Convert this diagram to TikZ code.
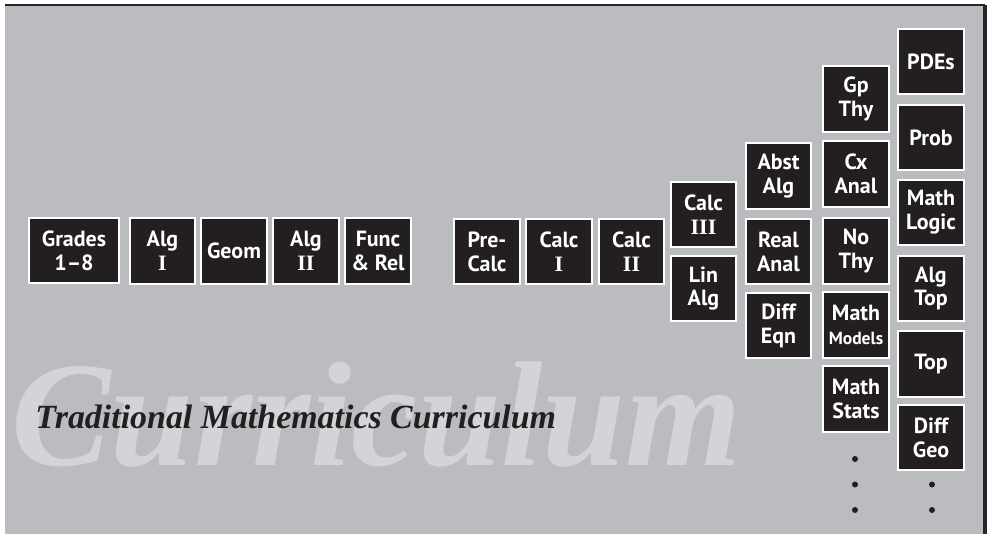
\documentclass[tikz,border=0pt]{standalone}
\usepackage{fontspec}
\setmainfont{Liberation Serif}
\setsansfont{PT Sans}
\usepackage{xcolor}
\usetikzlibrary{positioning,calc}
\definecolor{panelgray}{RGB}{187, 188, 192}
\definecolor{boxblack}{RGB}{35, 31, 32}
\definecolor{framedark}{RGB}{40, 38, 40}
\definecolor{ghostgray}{RGB}{211, 212, 215}
\newcommand{\rmnum}[1]{{\rmfamily\bfseries #1}}

\begin{document}
\begin{tikzpicture}[
  course/.style={rectangle, draw=white, fill=boxblack, line width=1.4pt, minimum width=1.31cm, minimum height=1.31cm, inner sep=1pt, align=center, text=white, font=\sffamily\bfseries\fontsize{12.5}{13.6}\selectfont},
  widecourse/.style={course, minimum width=1.79cm},
  moredot/.style={circle, fill=boxblack, inner sep=0pt, minimum size=0.12cm}
]
\useasboundingbox (0,0) rectangle (19.76,-10.68);

% Panel and its dark top / right edge
\fill[panelgray] (0.10,-0.10) rectangle (19.70,-10.68);
\draw[framedark, line width=1.2pt] (0.10,-0.10) -- (19.70,-0.10);
\draw[framedark, line width=1.8pt] (19.70,-0.10) -- (19.70,-10.68);

% Watermark and title
\node[anchor=base west, inner sep=0pt, text=ghostgray, font=\rmfamily\bfseries\itshape\fontsize{85}{85}\selectfont] (ghost) at (0.22,-9.30) {Curriculum};
\node[anchor=base west, inner sep=0pt, text=boxblack, font=\rmfamily\bfseries\itshape\fontsize{19.3}{20}\selectfont] (title) at (0.70,-8.56) {Traditional Mathematics Curriculum};

% School track
\node[widecourse] (grades) at (1.48, -5.01) {Grades\\1--8};
\node[course] (algi) at (3.25, -5.02) {Alg\\\rmnum{I}};
\node[course] (geom) at (4.68, -5.02) {Geom};
\node[course] (algii) at (6.12, -5.02) {Alg\\\rmnum{II}};
\node[course] (func) at (7.56, -5.02) {Func\\\& Rel};

% Calculus track
\node[course] (precalc) at (9.74, -5.03) {Pre-\\Calc};
\node[course] (calci) at (11.18, -5.03) {Calc\\\rmnum{I}};
\node[course] (calcii) at (12.63, -5.03) {Calc\\\rmnum{II}};
\node[course] (calciii) at (14.07, -4.29) {Calc\\\rmnum{III}};
\node[course] (linalg) at (14.07, -5.77) {Lin\\Alg};

% Upper division
\node[course] (abstalg) at (15.57, -3.52) {Abst\\Alg};
\node[course] (realanal) at (15.57, -5.03) {Real\\Anal};
\node[course] (diffeqn) at (15.57, -6.51) {Diff\\Eqn};

\node[course] (gpthy) at (17.12, -1.98) {Gp\\Thy};
\node[course] (cxanal) at (17.12, -3.48) {Cx\\Anal};
\node[course] (nothy) at (17.12, -5.02) {No\\Thy};
\node[course] (models) at (17.12, -6.50) {Math\\{\fontsize{10}{12}\selectfont Models}};
\node[course] (stats) at (17.12, -7.98) {Math\\Stats};

\node[course] (pdes) at (18.62, -1.23) {PDEs};
\node[course] (prob) at (18.62, -2.75) {Prob};
\node[course] (logic) at (18.62, -4.25) {Math\\Logic};
\node[course] (algtop) at (18.62, -5.77) {Alg\\Top};
\node[course] (top) at (18.62, -7.28) {Top};
\node[course] (diffgeo) at (18.62, -8.75) {Diff\\Geo};

% Continuation dots
\node[moredot] (da) at (17.10, -9.18) {};
\node[moredot] (db) at (17.10, -9.69) {};
\node[moredot] (dc) at (17.10, -10.20) {};
\node[moredot] (dd) at (18.64, -9.69) {};
\node[moredot] (de) at (18.64, -10.20) {};

\end{tikzpicture}
\end{document}
